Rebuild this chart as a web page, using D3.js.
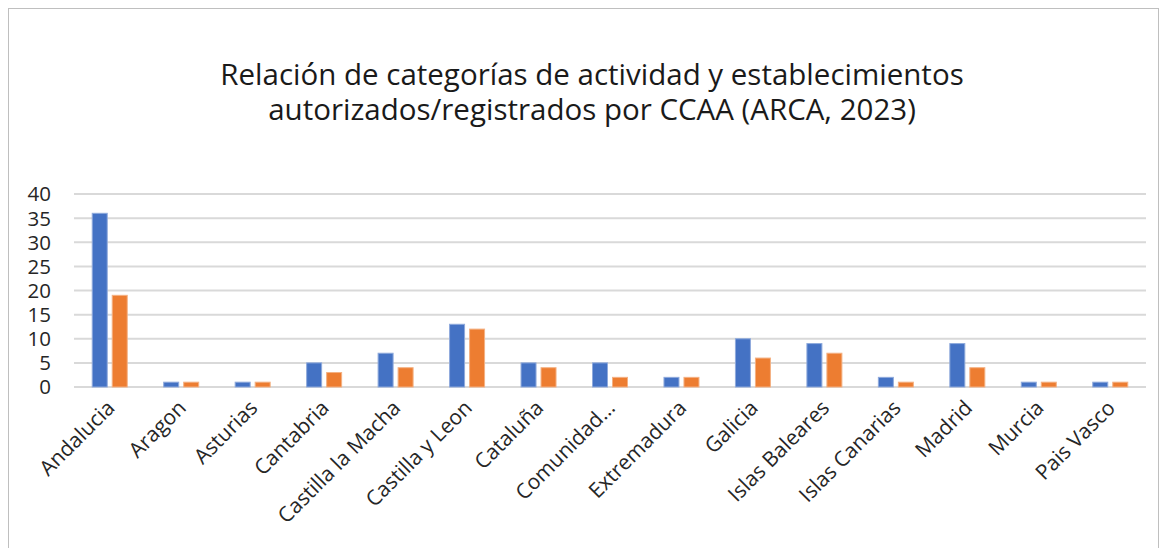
<!DOCTYPE html>
<html><head><meta charset="utf-8">
<script src="https://cdn.jsdelivr.net/npm/d3@7"></script>
<style>body{margin:0;background:#fff;} svg{display:block;}</style>
</head><body>
<svg id="c" width="1165" height="548"></svg>
<script>
const categories = ["Andalucia","Aragon","Asturias","Cantabria","Castilla la Macha","Castilla y Leon","Cataluña","Comunidad…","Extremadura","Galicia","Islas Baleares","Islas Canarias","Madrid","Murcia","Pais Vasco"];
const series1 = [36,1,1,5,7,13,5,5,2,10,9,2,9,1,1];
const series2 = [19,1,1,3,4,12,4,2,2,6,7,1,4,1,1];
const yTicks = [0,5,10,15,20,25,30,35,40];
const titleLines = ["Relación de categorías de actividad y establecimientos","autorizados/registrados por CCAA (ARCA, 2023)"];

const svg = d3.select("#c");
const font = "'Open Sans', 'Noto Sans', sans-serif";
svg.append("rect").attr("x",8.5).attr("y",8.5).attr("width",1150).attr("height",600)
  .attr("fill","#fff").attr("stroke","#bfbfbf").attr("stroke-width",1);

const m = {left:74, right:1146, top:194, bottom:387};
const x = d3.scaleBand().domain(categories).range([m.left,m.right]);
const y = d3.scaleLinear().domain([0,40]).range([m.bottom,m.top]);

svg.append("g").selectAll("line").data(yTicks).join("line")
  .attr("x1",m.left).attr("x2",m.right).attr("y1",d=>y(d)).attr("y2",d=>y(d))
  .attr("stroke","#d9d9d9").attr("stroke-width",2);

svg.append("g").selectAll("text").data(yTicks).join("text")
  .attr("x",51).attr("y",d=>y(d)).attr("dy","0.36em").attr("text-anchor","end")
  .attr("font-family",font).attr("font-size",20.5).attr("fill","#262626").text(d=>d);

const bw = 15, gap = 5;
const g = svg.append("g");
[[series1,"#4472C4","#8faadc",-1],[series2,"#ED7D31","#f4b183",1]].forEach(([vals,col,sc,side])=>{
  g.selectAll(null).data(vals).join("rect")
    .attr("x",(d,i)=>x(categories[i])+x.bandwidth()/2 + (side<0 ? -bw-gap/2 : gap/2))
    .attr("y",d=>y(d)).attr("width",bw).attr("height",d=>y(0)-y(d))
    .attr("fill",col).attr("stroke",sc).attr("stroke-width",1);
});

svg.append("g").selectAll("text").data(categories).join("text")
  .attr("transform",d=>`translate(${x(d)+x.bandwidth()/2+1},${m.bottom+17}) rotate(-45)`)
  .attr("text-anchor","end").attr("dy","0.35em")
  .attr("font-family",font).attr("font-size",21).attr("fill","#262626").text(d=>d);

svg.append("g").selectAll("text").data(titleLines).join("text")
  .attr("x",592).attr("y",(d,i)=>85+i*35).attr("text-anchor","middle")
  .attr("font-family",font).attr("font-size",29.5).attr("fill","#1a1a1a").text(d=>d);
</script>
</body></html>
